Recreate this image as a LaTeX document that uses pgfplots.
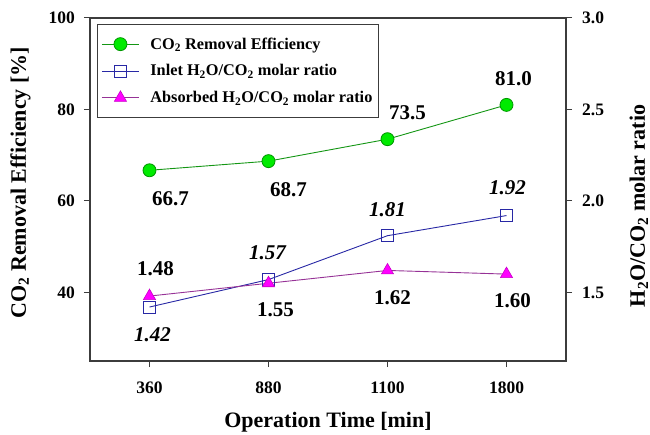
\documentclass[border=0pt]{standalone}
\usepackage{pgfplots}
\pgfplotsset{compat=1.18}
\usepackage{fontspec}
\setmainfont{Liberation Serif}
\definecolor{axgray}{RGB}{60,60,60}
\definecolor{gline}{RGB}{20,150,20}
\definecolor{gfill}{RGB}{0,235,0}
\definecolor{gdraw}{RGB}{0,150,0}
\definecolor{bline}{RGB}{40,40,165}
\definecolor{pline}{RGB}{150,50,150}
\definecolor{pfill}{RGB}{255,0,255}
\definecolor{pdraw}{RGB}{200,0,200}
\begin{document}
\begin{tikzpicture}
\useasboundingbox (-90bp,-74bp) rectangle (560bp,361bp);
\pgfplotsset{
  common/.style={
    scale only axis, width=476bp, height=343bp,
    xmin=-0.5, xmax=3.5,
    axis line style={draw=axgray, line width=1.1bp},
    tick style={draw=axgray, line width=1bp},
    tick align=outside, major tick length=6bp,
    /pgf/number format/assume math mode=true,
    ticklabel style={font=\fontsize{17.5bp}{20bp}\selectfont\bfseries},
    yticklabel style={inner xsep=0bp, xshift=0bp},
    label style={font=\fontsize{22bp}{26bp}\selectfont\bfseries},
    minor tick num=0,
    point meta=y,
    visualization depends on={value \thisrow{dx}\as\dx},
    visualization depends on={value \thisrow{dy}\as\dy},
  },
  vlab/.style={nodes near coords style={anchor=center, xshift={\dx bp}, yshift={\dy bp}, text=black,
      font=\fontsize{21bp}{24bp}\selectfont\bfseries#1}},
}
\begin{axis}[common,
  ymin=25, ymax=100, ytick={40,60,80,100}, ytick pos=left,
  yticklabel style={xshift=-9bp},
  xtick={0,1,2,3}, xticklabels={360,880,1100,1800}, xtick pos=bottom,
  xticklabel style={anchor=base, yshift=-26bp},
  xlabel={Operation Time [min]},
  ylabel={CO\textsubscript{2} Removal Efficiency [\%]},
  xlabel style={at={(axis description cs:0.5,-0.178)}, anchor=center},
  ylabel style={at={(axis description cs:-0.146,0.52)}, anchor=center},
]
\addplot[gline, line width=0.9bp, mark=*, mark size=6.5bp,
  mark options={fill=gfill, draw=gdraw, line width=0.8bp},
  nodes near coords={\pgfmathprintnumber[fixed,zerofill,precision=1]{\pgfplotspointmeta}},
  vlab={}] table {
x y dx dy
0 66.7 21 -28
1 68.7 20 -29
2 73.5 20 26
3 81.0 7 26
};
\end{axis}
\begin{axis}[common,
  ymin=1.125, ymax=3.0, ytick={1.5,2.0,2.5,3.0}, ytick pos=right, yticklabel pos=right,
  yticklabel style={/pgf/number format/.cd, fixed, fixed zerofill, precision=1, /tikz/.cd, xshift=10bp},
  xtick=\empty,
  ylabel={H\textsubscript{2}O/CO\textsubscript{2} molar ratio},
  ylabel style={at={(axis description cs:1.153,0.452)}, anchor=center},
  legend style={at={(rel axis cs:0.0147,0.982)}, anchor=north west, draw=axgray, line width=1bp,
    font=\fontsize{16.3bp}{19bp}\selectfont\bfseries, row sep=10bp, inner xsep=4bp, inner ysep=11bp,
    /tikz/every odd column/.append style={column sep=9bp}},
  legend cell align=left,
  legend image code/.code={\draw[mark repeat=2, mark phase=2] plot coordinates {(0bp,0bp) (18.5bp,0bp) (37bp,0bp)};},
]
\addlegendimage{gline, line width=0.9bp, mark=*, mark size=6.5bp, mark options={fill=gfill, draw=gdraw, line width=0.8bp}}
\addlegendentry{CO\textsubscript{2} Removal Efficiency}
\addplot[bline, line width=0.9bp, mark=square, mark size=6bp,
  mark options={draw=bline, line width=0.9bp},
  nodes near coords={\pgfmathprintnumber[fixed,zerofill,precision=2]{\pgfplotspointmeta}},
  vlab={\itshape}] table {
x y dx dy
0 1.42 3 -28
1 1.57 -1 27
2 1.81 0 26
3 1.92 1 28
};
\addlegendentry{Inlet H\textsubscript{2}O/CO\textsubscript{2} molar ratio}
\addplot[pline, line width=0.9bp, mark=triangle*, mark size=7bp,
  mark options={fill=pfill, draw=pdraw, line width=0.6bp},
  nodes near coords={\pgfmathprintnumber[fixed,zerofill,precision=2]{\pgfplotspointmeta}},
  vlab={}] table {
x y dx dy
0 1.48 6 27
1 1.55 7 -26
2 1.62 5 -27
3 1.60 6 -27
};
\addlegendentry{Absorbed H\textsubscript{2}O/CO\textsubscript{2} molar ratio}
\end{axis}
\end{tikzpicture}
\end{document}
